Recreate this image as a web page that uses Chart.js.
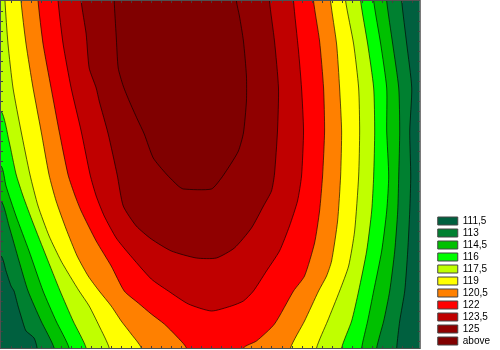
<!DOCTYPE html>
<html>
<head>
<meta charset="utf-8">
<script src="https://cdn.jsdelivr.net/npm/chart.js@4.4.1/dist/chart.umd.min.js"></script>
<style>
  body { margin: 0; background: #fff; }
  #wrap { width: 500px; height: 350px; }
</style>
</head>
<body>
<div id="wrap"><canvas id="contourChart" width="500" height="350"></canvas></div>
<script>
// legend levels and their band colours (lowest band first)
var levelLabels = ['111,5', '113', '114,5', '116', '117,5', '119', '120,5', '122', '123,5', '125', 'above'];
var levelColors = ['#00603f', '#008030', '#00c000', '#00ff00', '#c0ff00', '#ffff00',
                   '#ff8000', '#ff0000', '#c00000', '#900000', '#800000'];

// contour lines, [x, y] in plot units (x 0..418, y 0..347 from top)
var line111_5 = [[0,255],[5,270],[10,285],[13,290],[17,305],[23,325],[25,330],[33,337],[36,347],
                 [395,347],[398,320],[403,290],[406,250],[408,210],[409,175],[408,130],[410,87],[405,43],[400,0]];
var line113 = [[0,200],[8,225],[18,260],[27,290],[40,320],[53,347],
               [375,347],[382,320],[388,290],[393,250],[396,210],[397,175],[398,130],[397,87],[391,43],[385,0]];
var line114_5 = [[0,165],[5,185],[15,215],[28,250],[42,290],[55,320],[68,347],
                 [360,347],[366,320],[372,290],[380,250],[385,210],[387,175],[385,130],[385,87],[379,43],[372,0]];
var line116 = [[0,110],[8,140],[15,173],[22,195],[32,222],[45,255],[59,290],[72,320],[85,347],
               [340,347],[350,320],[357,290],[365,250],[370,210],[372,175],[373,130],[372,87],[366,43],[359,0]];
var line117_5 = [[4,0],[7,43],[12,87],[20,130],[29,174],[37,205],[48,235],[60,260],[70,277],[78,290],[88,305],[98,325],[108,347],
                 [315,347],[326,320],[338,290],[347,265],[353,230],[357,175],[358,130],[357,87],[352,43],[344,0]];
var line119 = [[20,0],[25,43],[32,87],[40,130],[48,174],[55,200],[65,228],[76,255],[87,275],[98,290],[110,305],[120,320],[130,333],[140,347],
               [289,347],[303,320],[317,290],[325,275],[330,260],[336,220],[339,175],[340,130],[338,87],[335,43],[329,0]];
var line120_5 = [[37,0],[42,43],[50,87],[58,130],[67,174],[74,195],[80,210],[95,240],[110,265],[123,290],[137,302],[150,313],[163,323],[175,335],[185,347],
                 [242,347],[255,340],[273,323],[292,290],[303,275],[313,242],[318,210],[321,175],[323,130],[322,87],[318,40],[312,0]];
var line122 = [[57,0],[62,43],[70,87],[80,130],[89,174],[95,195],[103,215],[115,237],[127,252],[150,278],[167,290],[187,303],[210,310],
               [230,305],[242,300],[252,290],[265,270],[278,250],[288,225],[296,200],[300,175],[302,130],[300,87],[297,50],[292,0]];
var line123_5 = [[80,0],[85,33],[88,67],[95,87],[98,100],[107,133],[116,174],[122,205],[135,225],[150,238],[170,250],[195,257],[215,257],
                 [233,247],[250,227],[262,205],[270,190],[273,173],[276,130],[277,87],[273,40],[268,0]];
var line125 = [[113,0],[115,35],[117,67],[122,85],[128,100],[136,118],[143,133],[152,157],[165,173],[177,185],[182,188],
               [210,188],[220,177],[230,162],[237,150],[242,132],[245,100],[245,75],[242,40],[238,15],[235,0]];

var contourLines = [line111_5, line113, line114_5, line116, line117_5, line119, line120_5, line122, line123_5, line125];

var X_MAX = 418, Y_MAX = 347;
var TICK_STEP = 10;   // small inner tick marks on the frame

// push a point that sits on the plot edge out of the plot, so the closing part of the shape is clipped away
function pushOut(p) {
    if (p.x <= 0) return {x: -20, y: p.y};
    if (p.x >= X_MAX) return {x: X_MAX + 20, y: p.y};
    if (p.y <= 0) return {x: p.x, y: -20};
    return {x: p.x, y: Y_MAX + 20};
}

// region "value above the level" as a closed shape
function regionShape(line) {
    var pts = line.map(function (p) { return {x: p[0], y: p[1]}; });
    var out = [{x: -20, y: -20}, pushOut(pts[0])];
    for (var i = 0; i < pts.length; i++) {
        out.push(pts[i]);
        var next = pts[i + 1];
        if (next && pts[i].y >= Y_MAX && next.y >= Y_MAX) {
            out.push(pushOut(pts[i]));
            out.push(pushOut(next));
        }
    }
    out.push(pushOut(pts[pts.length - 1]));
    out.push({x: X_MAX + 20, y: -20});
    return out;
}

var datasets = contourLines.map(function (line, i) {
    return {
        label: levelLabels[i],
        data: regionShape(line),
        backgroundColor: levelColors[i + 1],
        borderColor: 'rgba(0,0,0,0.8)',
        borderWidth: 0.8,
        pointRadius: 0,
        tension: 0.2,
        fill: 'shape',
        order: contourLines.length - i   // higher levels drawn on top
    };
});

// plot frame, its small inner ticks, and the lowest band as plot background
var framePlugin = {
    id: 'frame',
    beforeDatasetsDraw: function (chart) {
        var a = chart.chartArea, ctx = chart.ctx;
        ctx.save();
        ctx.fillStyle = levelColors[0];
        ctx.fillRect(a.left, a.top, a.right - a.left, a.bottom - a.top);
        ctx.restore();
    },
    afterDatasetsDraw: function (chart) {
        var a = chart.chartArea, ctx = chart.ctx;
        var xs = chart.scales.x, ys = chart.scales.y;
        ctx.save();
        ctx.strokeStyle = '#404040';
        ctx.lineWidth = 1;
        ctx.beginPath();
        for (var v = TICK_STEP; v < Y_MAX; v += TICK_STEP) {
            var py = Math.round(ys.getPixelForValue(v)) + 0.5;
            ctx.moveTo(a.left, py); ctx.lineTo(a.left + 2, py);
            ctx.moveTo(a.right, py); ctx.lineTo(a.right - 2, py);
        }
        for (var u = TICK_STEP; u < X_MAX; u += TICK_STEP) {
            var px = Math.round(xs.getPixelForValue(u)) + 0.5;
            ctx.moveTo(px, a.bottom); ctx.lineTo(px, a.bottom - 2);
            ctx.moveTo(px, a.top); ctx.lineTo(px, a.top + 2);
        }
        ctx.stroke();
        ctx.strokeStyle = '#505050';
        ctx.strokeRect(a.left - 0.5, a.top - 0.5, a.right - a.left + 1, a.bottom - a.top + 1);
        ctx.restore();
    }
};

var ctx = document.getElementById('contourChart').getContext('2d');
new Chart(ctx, {
    type: 'line',
    data: { datasets: datasets },
    options: {
        responsive: false,
        animation: false,
        layout: { padding: { left: 1, top: 1, right: 0, bottom: 2 } },
        scales: {
            x: { type: 'linear', min: 0, max: X_MAX, display: false },
            y: {
                type: 'linear', min: 0, max: Y_MAX, reverse: true, position: 'right',
                grid: { display: false }, border: { display: false }, ticks: { display: false },
                afterFit: function (scale) { scale.width = 16; }   // gap between plot and legend
            }
        },
        plugins: {
            tooltip: { enabled: false },
            legend: {
                position: 'right',
                align: 'end',
                labels: {
                    boxWidth: 20,
                    boxHeight: 8,
                    padding: 2,
                    color: '#000',
                    font: { family: 'Liberation Sans, Arial, sans-serif', size: 10 },
                    generateLabels: function () {
                        return levelLabels.map(function (t, i) {
                            return { text: t, fillStyle: levelColors[i], strokeStyle: '#444', lineWidth: 1, hidden: false, index: i };
                        });
                    }
                }
            }
        }
    },
    plugins: [framePlugin]
});
</script>
</body>
</html>
